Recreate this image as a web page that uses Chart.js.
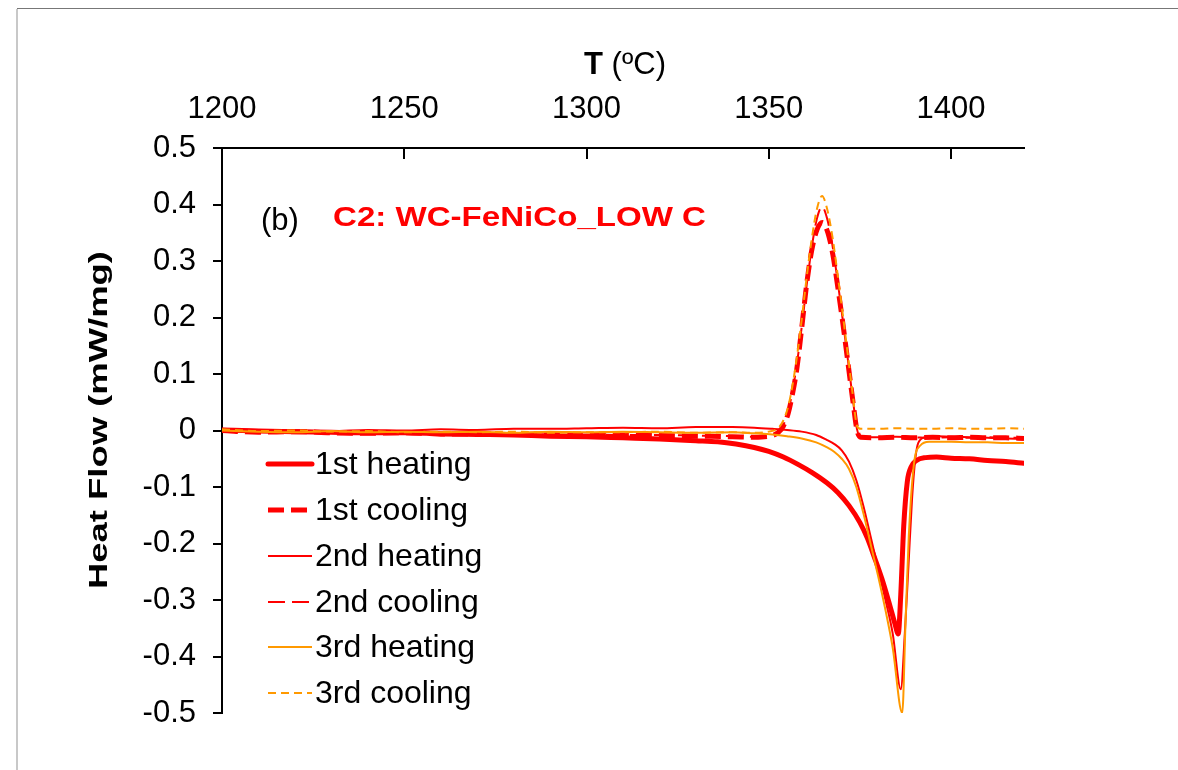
<!DOCTYPE html>
<html>
<head>
<meta charset="utf-8">
<script src="https://cdn.jsdelivr.net/npm/chart.js"></script>
<style>
  body { margin: 0; background: #fff; }
  #wrap { position: relative; width: 1178px; height: 770px; }
</style>
</head>
<body>
<div id="wrap"><canvas id="dsc" width="1178" height="770"></canvas></div>
<script>
// temperature (C) and heat flow (mW/mg)
const tHeat1 = [1200,1210,1220,1230,1240,1250,1260,1270,1280,1290,1300,1310,1320,1330,1336,1341,1346,1350,1354,1358,1362,1366,1369,1372,1375,1377,1379,1381,1383,1384.6,1385.5,1386.2,1387,1388,1389,1390.5,1393,1396,1400,1405,1410,1415,1420];
const heat1 = [0.001,-0.001,-0.002,-0.003,-0.004,-0.004,-0.006,-0.007,-0.008,-0.010,-0.011,-0.013,-0.015,-0.018,-0.020,-0.024,-0.030,-0.037,-0.047,-0.060,-0.075,-0.093,-0.110,-0.133,-0.163,-0.190,-0.225,-0.262,-0.305,-0.342,-0.360,-0.290,-0.170,-0.090,-0.065,-0.053,-0.048,-0.047,-0.049,-0.050,-0.053,-0.055,-0.058];

const tHeat2 = [1200,1210,1220,1230,1240,1250,1260,1270,1280,1290,1300,1310,1320,1330,1340,1346,1351,1355,1359,1363,1366,1368,1370,1372,1374,1376,1378,1380,1382,1384,1386.2,1387.3,1388.3,1389.3,1390.2,1391,1393,1396,1400,1405,1410,1415,1420];
const heat2 = [0.003,0.001,0.000,-0.001,0.001,0.000,0.002,0.001,0.003,0.003,0.004,0.005,0.004,0.006,0.006,0.005,0.003,0.001,-0.002,-0.008,-0.017,-0.024,-0.035,-0.055,-0.088,-0.135,-0.190,-0.245,-0.300,-0.360,-0.458,-0.360,-0.240,-0.120,-0.050,-0.022,-0.012,-0.010,-0.011,-0.012,-0.013,-0.014,-0.015];

const tHeat3 = [1200,1210,1220,1230,1240,1250,1260,1270,1280,1290,1300,1310,1320,1330,1340,1346,1351,1355,1359,1363,1366,1368,1370,1372,1374,1376,1378,1380,1382,1384,1386.6,1387.5,1388.4,1389.8,1391.5,1394,1400,1405,1410,1415,1420];
const heat3 = [0.000,-0.002,-0.003,-0.001,-0.003,-0.002,-0.003,-0.002,-0.004,-0.002,-0.003,-0.002,-0.003,-0.004,-0.003,-0.005,-0.007,-0.010,-0.014,-0.021,-0.030,-0.038,-0.050,-0.068,-0.100,-0.148,-0.203,-0.258,-0.318,-0.385,-0.500,-0.340,-0.187,-0.060,-0.027,-0.020,-0.020,-0.021,-0.021,-0.022,-0.022];

const tCool1 = [1200,1210,1220,1230,1240,1250,1260,1270,1280,1290,1300,1310,1320,1330,1340,1346,1350,1352.5,1354,1355.3,1356.5,1357.7,1359,1360.4,1361.8,1363.2,1364.7,1366.2,1367.6,1369,1370.3,1371.6,1373,1374.2,1375.2,1380,1385,1390,1395,1400,1405,1410,1415,1420];
const cool1 = [0.000,-0.003,-0.002,-0.004,-0.005,-0.004,-0.006,-0.006,-0.007,-0.006,-0.008,-0.008,-0.009,-0.010,-0.011,-0.012,-0.010,-0.004,0.008,0.030,0.065,0.110,0.180,0.260,0.320,0.355,0.368,0.350,0.310,0.250,0.190,0.125,0.055,0.000,-0.012,-0.013,-0.012,-0.013,-0.012,-0.013,-0.012,-0.013,-0.013,-0.014];

const tCool23 = [1200,1210,1220,1230,1240,1250,1260,1270,1280,1290,1300,1310,1320,1330,1340,1346,1350,1352.5,1354,1355.3,1356.5,1357.7,1359,1360.4,1361.8,1363.2,1364.6,1366,1367.4,1368.8,1370.2,1371.6,1373,1374.2,1375.2,1380,1385,1390,1395,1400,1405,1410,1415,1420];
const cool2 = [-0.001,-0.002,-0.004,-0.003,-0.004,-0.005,-0.005,-0.006,-0.006,-0.007,-0.007,-0.008,-0.008,-0.009,-0.010,-0.011,-0.009,-0.003,0.010,0.033,0.070,0.118,0.182,0.258,0.325,0.375,0.396,0.375,0.330,0.268,0.200,0.130,0.058,0.002,-0.011,-0.012,-0.011,-0.012,-0.013,-0.012,-0.013,-0.012,-0.013,-0.013];
const cool3 = [0.002,-0.001,0.000,-0.002,-0.001,-0.003,-0.002,-0.003,-0.002,-0.004,-0.003,-0.003,-0.002,-0.004,-0.003,-0.004,-0.002,0.004,0.018,0.042,0.080,0.130,0.195,0.272,0.340,0.392,0.415,0.392,0.345,0.280,0.210,0.138,0.065,0.008,0.003,0.003,0.004,0.003,0.003,0.004,0.003,0.003,0.004,0.003];

const seriesNames = ['1st heating', '1st cooling', '2nd heating', '2nd cooling', '3rd heating', '3rd cooling'];

const RED = '#FF0000';
const ORANGE = '#FF9900';
const FONT = 'Arial, "Liberation Sans", sans-serif';

function pts(t, v) {
  return t.map((x, i) => ({ x: x, y: v[i] }));
}

const styles = [
  { color: RED,    width: 5, dash: [],       cap: 'round' },
  { color: RED,    width: 5, dash: [16, 7],  cap: 'butt' },
  { color: RED,    width: 2, dash: [],       cap: 'butt' },
  { color: RED,    width: 2, dash: [17, 7],  cap: 'butt' },
  { color: ORANGE, width: 2, dash: [],       cap: 'butt' },
  { color: ORANGE, width: 2, dash: [8, 5],   cap: 'butt' }
];
const seriesData = [
  pts(tHeat1, heat1), pts(tCool1, cool1),
  pts(tHeat2, heat2), pts(tCool23, cool2),
  pts(tHeat3, heat3), pts(tCool23, cool3)
];

const datasets = seriesNames.map((name, i) => ({
  label: name,
  data: seriesData[i],
  borderColor: styles[i].color,
  borderWidth: styles[i].width,
  borderDash: styles[i].dash,
  borderCapStyle: styles[i].cap,
  borderJoinStyle: 'round',
  pointRadius: 0,
  cubicInterpolationMode: 'monotone',
  fill: false,
  order: 6 - i   // later series on top, like the original
}));

const decor = {
  id: 'decor',
  beforeDraw(chart) {
    const c = chart.ctx;
    c.save();
    c.fillStyle = '#fff';
    c.fillRect(0, 0, chart.width, chart.height);
    c.fillStyle = '#c8c8c8';
    c.fillRect(16, 9, 2, chart.height);
    c.fillStyle = '#777';
    c.fillRect(17, 8, chart.width, 1);
    c.restore();
  },
  afterDraw(chart) {
    const c = chart.ctx, a = chart.chartArea, xs = chart.scales.x;
    c.save();

    // tick marks on the top axis point into the plot
    c.strokeStyle = '#000';
    c.lineWidth = 2;
    xs.ticks.forEach(t => {
      const px = Math.round(xs.getPixelForValue(t.value));
      c.beginPath();
      c.moveTo(px, a.top);
      c.lineTo(px, a.top + 11);
      c.stroke();
    });

    // x title: bold T, regular unit
    c.fillStyle = '#000';
    c.textBaseline = 'middle';
    c.textAlign = 'left';
    c.font = 'bold 31px ' + FONT;
    const wT = c.measureText('T ').width;
    c.font = '31px ' + FONT;
    const wU = c.measureText('(ºC)').width;
    let x0 = (a.left + a.right) / 2 - (wT + wU) / 2 + 2;
    c.font = 'bold 31px ' + FONT;
    c.fillText('T', x0, 65);
    c.font = '31px ' + FONT;
    c.fillText('(ºC)', x0 + wT, 65);

    // y title, rotated and stretched like the original
    c.save();
    c.translate(100, 420);
    c.rotate(-Math.PI / 2);
    c.font = 'bold 26px ' + FONT;
    const yt = 'Heat Flow (mW/mg)';
    const wy = c.measureText(yt).width;
    c.scale(338 / wy, 1);
    c.textAlign = 'center';
    c.fillText(yt, 0, 0);
    c.restore();

    // panel label and sample name
    c.font = '31px ' + FONT;
    c.fillText('(b)', 261, 221);
    c.save();
    c.font = 'bold 27px ' + FONT;
    c.fillStyle = RED;
    const st = 'C2: WC-FeNiCo_LOW C';
    const ws = c.measureText(st).width;
    c.translate(333, 219);
    c.scale(373 / ws, 1);
    c.fillText(st, 0, 0);
    c.restore();

    // legend
    const rows = [464, 510, 556, 602, 647, 693];
    chart.data.datasets.forEach((ds, i) => {
      const y = rows[i];
      c.strokeStyle = ds.borderColor;
      c.lineWidth = ds.borderWidth;
      c.setLineDash(ds.borderDash);
      c.lineCap = ds.borderCapStyle;
      c.beginPath();
      c.moveTo(268, y);
      c.lineTo(312, y);
      c.stroke();
      c.setLineDash([]);
      c.fillStyle = '#000';
      c.font = '32px ' + FONT;
      c.fillText(ds.label, 315, y + 1);
    });
    c.restore();
  }
};

new Chart(document.getElementById('dsc'), {
  type: 'line',
  data: { datasets: datasets },
  options: {
    responsive: false,
    animation: false,
    layout: { padding: { left: 0, top: 0, right: 154, bottom: 57 } },
    plugins: { legend: { display: false }, tooltip: { enabled: false } },
    scales: {
      x: {
        type: 'linear',
        position: 'top',
        min: 1200,
        max: 1420,
        afterFit: s => { s.height = 148; },
        ticks: {
          stepSize: 50,
          includeBounds: false,
          autoSkip: false,
          maxRotation: 0,
          padding: 12,
          color: '#000',
          font: { family: FONT, size: 31 },
          callback: v => String(v)
        },
        grid: { display: false },
        border: { display: true, color: '#000', width: 2 }
      },
      y: {
        type: 'linear',
        min: -0.5,
        max: 0.5,
        afterFit: s => { s.width = 222; },
        ticks: {
          stepSize: 0.1,
          padding: 17,
          color: '#000',
          font: { family: FONT, size: 31 },
          callback: v => String(Math.round(v * 10) / 10)
        },
        grid: { display: true, drawOnChartArea: false, drawTicks: true, tickLength: 9, color: '#000', lineWidth: 2 },
        border: { display: true, color: '#000', width: 2 }
      }
    }
  },
  plugins: [decor]
});
</script>
</body>
</html>
